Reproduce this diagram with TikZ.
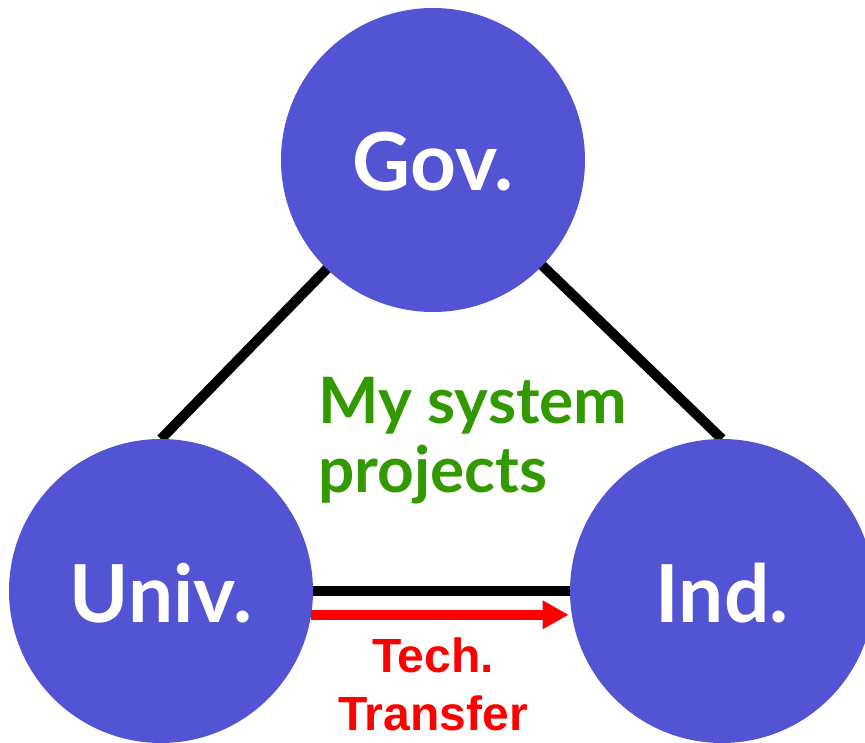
\documentclass[tikz,border=0pt]{standalone}
\usepackage{fontspec}
\setmainfont{Lato}
\newfontfamily\arialfont{Liberation Sans}
\usetikzlibrary{arrows.meta,calc}
\definecolor{bubble}{HTML}{5254D4}
\definecolor{projgreen}{HTML}{339900}
\definecolor{techred}{HTML}{FF0000}
\tikzset{
  bubblenode/.style={circle,fill=bubble,draw=none,minimum size=304pt,inner sep=0pt},
  bubbletext/.style={text=white,font=\fontsize{80}{90}\selectfont\bfseries,anchor=base,inner sep=0pt},
  link/.style={line width=10pt,black},
  transfer/.style={line width=10pt,techred,-{Triangle[length=26pt,width=27pt]}},
  greentext/.style={text=projgreen,font=\fontsize{64}{69}\selectfont\bfseries,anchor=base west,inner sep=0pt},
  redtext/.style={text=techred,font=\arialfont\fontsize{48}{58}\selectfont\bfseries,anchor=base,inner sep=0pt}
}
\begin{document}
\begin{tikzpicture}[x=1pt,y=-1pt]
\useasboundingbox (0,0) rectangle (865,743);
% node centres
\coordinate (gc) at (433,160);
\coordinate (uc) at (161,591);
\coordinate (ic) at (722,591);
% connectors behind circles
\draw[link] (gc) -- ($(uc)+(0,-152)$) coordinate (utop);
\draw[link] (gc) -- ($(ic)+(0,-152)$) coordinate (itop);
\draw[link] (uc) -- (ic);
% circles
\node[bubblenode] (gov) at (gc) {};
\node[bubblenode] (univ) at (uc) {};
\node[bubblenode] (ind) at (ic) {};
% red arrow
\draw[transfer] (univ.-9.5) -- ([xshift=-3pt]ind.189.5);
% labels
\node[bubbletext] (govlabel) at ($(gc)+(0,31)$) {Gov.};
\node[bubbletext] (univlabel) at ($(uc)+(0,31)$) {Univ.};
\node[bubbletext] (indlabel) at ($(ic)+(0,31)$) {Ind.};
% green text
\node[greentext] (my) at (318,423) {My system};
\node[greentext] (proj) at (318,492) {projects};
% red text
\node[redtext] (tech) at (433,672) {Tech.};
\node[redtext] (trans) at (433,730) {Transfer};
\end{tikzpicture}
\end{document}
